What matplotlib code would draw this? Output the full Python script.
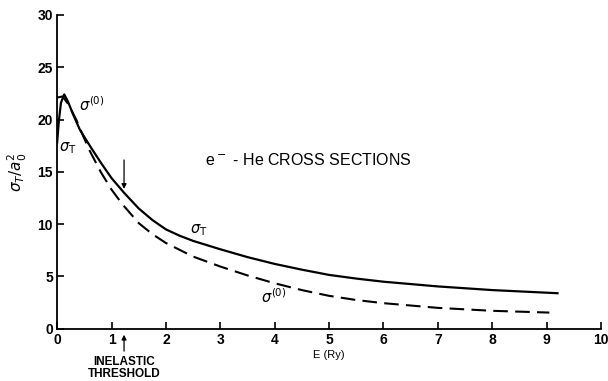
import matplotlib
matplotlib.use('Agg')
import matplotlib.pyplot as plt

# values
energy_total = [0.0, 0.03, 0.07, 0.13, 0.2, 0.3, 0.42, 0.6, 0.8, 1.0, 1.23, 1.5, 1.75,
                2.0, 2.25, 2.5, 2.75, 3.0, 3.5, 4.0, 4.5, 5.0, 5.5, 6.0, 7.0, 8.0, 9.0, 9.2]
sigma_total = [17.8, 19.8, 21.6, 22.4, 21.7, 20.4, 19.0, 17.5, 15.9, 14.4, 13.0, 11.5, 10.4,
               9.5, 8.9, 8.4, 8.0, 7.6, 6.85, 6.2, 5.65, 5.15, 4.8, 4.5, 4.05, 3.7, 3.45, 3.4]

energy_elastic = [0.0, 0.1, 0.2, 0.35, 0.48, 0.6, 0.8, 1.0, 1.2, 1.5, 1.75, 2.0, 2.5,
                  3.0, 3.5, 4.0, 4.5, 5.0, 5.5, 6.0, 7.0, 8.0, 9.05]
sigma_elastic = [22.1, 22.2, 21.5, 20.0, 18.4, 17.0, 15.0, 13.3, 11.9, 10.1, 9.05, 8.2, 6.9,
                 5.95, 5.1, 4.35, 3.7, 3.15, 2.75, 2.45, 2.0, 1.72, 1.55]

threshold = 1.23
x_ticks = list(range(0, 11))
y_ticks = [0, 5, 10, 15, 20, 25, 30]

plt.rcParams['font.family'] = ['Liberation Sans', 'DejaVu Sans']
plt.rcParams['mathtext.fontset'] = 'dejavusans'

fig = plt.figure(figsize=(6.08, 3.81), dpi=100)
ax = fig.add_axes([0.094, 0.137, 0.8945, 0.824])

ax.plot(energy_total, sigma_total, color='black', linewidth=1.6)
ax.plot(energy_elastic, sigma_elastic, color='black', linewidth=1.5, dashes=(7, 3.5))

ax.set_xlim(0, 10)
ax.set_ylim(0, 30)
ax.set_xticks(x_ticks)
ax.set_yticks(y_ticks)
ax.tick_params(direction='in', length=5, width=1.2, labelsize=10, pad=3)
for lab in ax.get_xticklabels() + ax.get_yticklabels():
    lab.set_fontweight('bold')
for s in ['top', 'right']:
    ax.spines[s].set_visible(False)
for s in ['left', 'bottom']:
    ax.spines[s].set_linewidth(1.3)

ax.set_xlabel('E (Ry)', fontsize=8, labelpad=2)
ax.set_ylabel(r'$\sigma_T/a_0^2$', fontsize=11, labelpad=6)

# curve labels
ax.text(2.72, 16.1, r'e$^-$ - He CROSS SECTIONS', fontsize=11.5, va='center')
ax.text(2.45, 9.4, r'$\sigma_{\rm T}$', fontsize=10.5, va='center')
ax.text(3.75, 3.1, r'$\sigma^{(0)}$', fontsize=10.5, va='center')
ax.text(0.04, 17.3, r'$\sigma_{\rm T}$', fontsize=10.5, va='center')
ax.text(0.4, 21.4, r'$\sigma^{(0)}$', fontsize=10.5, va='center')

# inelastic threshold arrows
ax.annotate('', xy=(threshold, 13.1), xytext=(threshold, 16.4),
            arrowprops=dict(arrowstyle='-|>', color='black', lw=0.9, mutation_scale=7))
ax.annotate('', xy=(threshold, -0.3), xytext=(threshold, -2.4),
            arrowprops=dict(arrowstyle='-|>', color='black', lw=0.9, mutation_scale=7),
            annotation_clip=False)
ax.text(threshold, -2.6, 'INELASTIC\nTHRESHOLD', fontsize=8.5, fontweight='bold',
        ha='center', va='top', linespacing=1.05, clip_on=False)

fig.savefig('out.png', dpi=100)
